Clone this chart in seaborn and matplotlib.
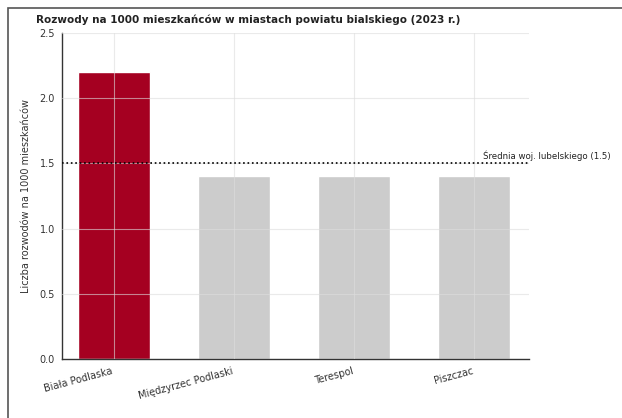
import matplotlib
matplotlib.use("Agg")
import matplotlib.pyplot as plt
import seaborn as sns
import pandas as pd
from matplotlib.patches import Rectangle

# Data
cities = ["Biała Podlaska", "Międzyrzec Podlaski", "Terespol", "Piszczac"]
divorces = [2.2, 1.4, 1.4, 1.4]
voiv_avg = 1.5
bar_colors = ["#a50021", "#cccccc", "#cccccc", "#cccccc"]

sns.set_theme(style="whitegrid")
plt.rcParams["font.family"] = ["DejaVu Sans"]

df = pd.DataFrame({"city": cities, "value": divorces})

fig = plt.figure(figsize=(6.22, 4.18), dpi=100)
ax = fig.add_axes([0.0997, 0.141, 0.75, 0.78])

sns.barplot(data=df, x="city", y="value", hue="city", palette=bar_colors,
            width=0.6, legend=False, ax=ax, saturation=1)

ax.axhline(voiv_avg, color="black", linestyle=":", linewidth=1.2, zorder=3)
ax.text(3.07, voiv_avg + 0.015, f"Średnia woj. lubelskiego ({voiv_avg})",
        fontsize=6.2, va="bottom", ha="left", color="#222222", clip_on=False)

ax.set_xlim(-0.43, 3.45)
ax.set_ylim(0, 2.5)
ax.set_yticks([0.0, 0.5, 1.0, 1.5, 2.0, 2.5])
ax.set_yticklabels([f"{t:.1f}" for t in ax.get_yticks()], fontsize=7, color="#333333")
ax.set_xticks(range(len(cities)))
ax.set_xticklabels(cities, rotation=15, ha="right", fontsize=7, color="#333333")
ax.set_xlabel("")
ax.set_ylabel("Liczba rozwodów na 1000 mieszkańców", fontsize=7, color="#333333", labelpad=6)
ax.tick_params(axis="both", length=3, color="#333333", pad=2)

ax.grid(True, color="#dddddd", linewidth=0.8, alpha=0.6)
ax.set_axisbelow(False)
for side in ["top", "right"]:
    ax.spines[side].set_visible(False)
for side in ["left", "bottom"]:
    ax.spines[side].set_color("#333333")
    ax.spines[side].set_linewidth(1.0)

fig.text(0.058, 0.94, "Rozwody na 1000 mieszkańców w miastach powiatu bialskiego (2023 r.)",
         fontsize=7.5, fontweight="bold", ha="left", va="bottom", color="#222222")

fig.patches.append(Rectangle((0.013, -0.05), 1.1, 1.03, transform=fig.transFigure,
                             fill=False, edgecolor="#555555", linewidth=1.2))

fig.savefig("out.png", dpi=100, facecolor="white")
